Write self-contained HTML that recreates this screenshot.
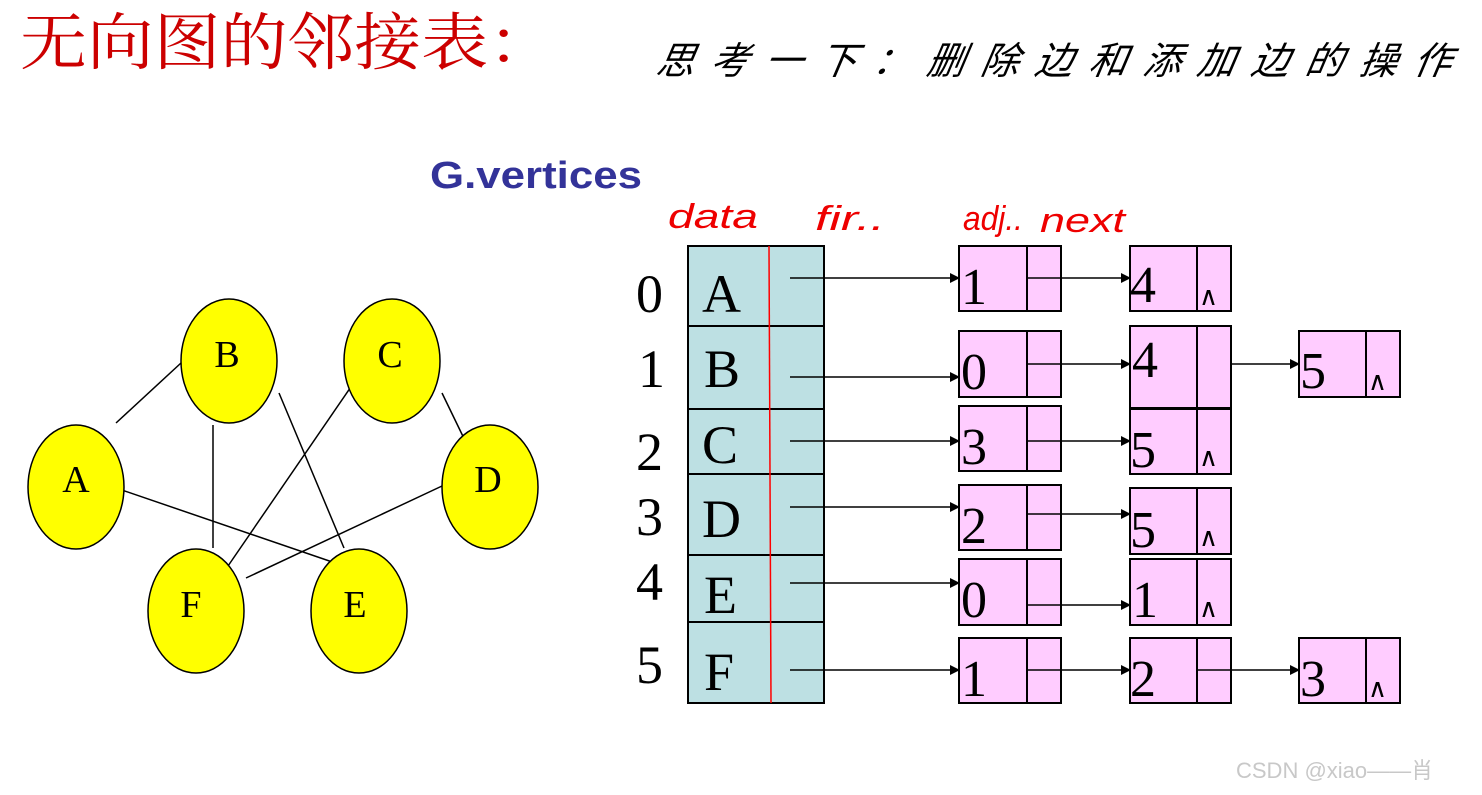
<!DOCTYPE html>
<html><head><meta charset="utf-8"><style>
html,body{margin:0;padding:0;background:#fff;width:1482px;height:795px;overflow:hidden}
svg{display:block}
</style></head><body>
<svg width="1482" height="795" viewBox="0 0 1482 795" xmlns="http://www.w3.org/2000/svg">
<defs><marker id="ar" markerWidth="10" markerHeight="10" refX="9" refY="5" orient="auto" markerUnits="userSpaceOnUse"><path d="M0,0 L10,5 L0,10 z" fill="#000"/></marker></defs>
<text x="20" y="64" font-family="'Liberation Serif','Noto Serif CJK SC',serif" font-size="62" fill="#cc0000" textLength="535" lengthAdjust="spacingAndGlyphs">无向图的邻接表：</text>
<text x="655" y="74" font-family="'Liberation Sans','Noto Sans CJK SC',sans-serif" font-size="38" font-style="italic" fill="#000" textLength="795" lengthAdjust="spacing" transform="skewX(-10) translate(13,0)">思考一下：删除边和添加边的操作</text>
<text x="430" y="188" font-family="'Liberation Sans',sans-serif" font-weight="bold" font-size="38" fill="#333399" textLength="212" lengthAdjust="spacingAndGlyphs">G.vertices</text>
<g font-family="'Liberation Sans',sans-serif" font-size="34" fill="#ee0000" font-style="italic">
<text x="668" y="228" textLength="90" lengthAdjust="spacingAndGlyphs">data</text>
<text x="815" y="230" textLength="70" lengthAdjust="spacingAndGlyphs">fir..</text>
<text x="963" y="230" textLength="60" lengthAdjust="spacingAndGlyphs">adj..</text>
<text x="1040" y="232" textLength="85" lengthAdjust="spacingAndGlyphs">next</text>
</g>
<!-- graph -->
<g stroke="#000" stroke-width="1.5">
<line x1="116" y1="423" x2="181" y2="363"/>
<line x1="213" y1="425" x2="213" y2="548"/>
<line x1="279" y1="393" x2="344" y2="548"/>
<line x1="357" y1="378" x2="228" y2="566"/>
<line x1="442" y1="393" x2="472" y2="455"/>
<line x1="116" y1="488" x2="344" y2="566"/>
<line x1="442" y1="486" x2="246" y2="578"/>
</g>
<g fill="#ffff00" stroke="#000" stroke-width="1.5">
<ellipse cx="76" cy="487" rx="48" ry="62"/>
<ellipse cx="229" cy="361" rx="48" ry="62"/>
<ellipse cx="392" cy="361" rx="48" ry="62"/>
<ellipse cx="490" cy="487" rx="48" ry="62"/>
<ellipse cx="196" cy="611" rx="48" ry="62"/>
<ellipse cx="359" cy="611" rx="48" ry="62"/>
</g>
<g font-family="'Liberation Serif',serif" font-size="38" fill="#000" text-anchor="middle">
<text x="76" y="492">A</text><text x="227" y="367">B</text><text x="390" y="367">C</text>
<text x="488" y="492">D</text><text x="191" y="617">F</text><text x="355" y="617">E</text>
</g>
<!-- vertex table -->
<g fill="#bde0e3" stroke="#000" stroke-width="2">
<rect x="688" y="246" width="136" height="80"/>
<rect x="688" y="326" width="136" height="83"/>
<rect x="688" y="409" width="136" height="65"/>
<rect x="688" y="474" width="136" height="81"/>
<rect x="688" y="555" width="136" height="67"/>
<rect x="688" y="622" width="136" height="81"/>
</g>
<line x1="769" y1="246" x2="771" y2="703" stroke="#ff0000" stroke-width="1.5"/>
<g font-family="'Liberation Serif',serif" font-size="54" fill="#000">
<text x="636" y="312">0</text><text x="638" y="387">1</text><text x="636" y="470">2</text>
<text x="636" y="535">3</text><text x="636" y="600">4</text><text x="636" y="683">5</text>
<text x="702" y="312">A</text><text x="704" y="387">B</text><text x="702" y="463">C</text>
<text x="702" y="537">D</text><text x="704" y="613">E</text><text x="704" y="690">F</text>
</g>
<!-- nodes -->
<g fill="#ffccff" stroke="#000" stroke-width="2">
<rect x="959" y="246" width="102" height="65"/><line x1="1027" y1="246" x2="1027" y2="311"/>
<rect x="959" y="331" width="102" height="66"/><line x1="1027" y1="331" x2="1027" y2="397"/>
<rect x="959" y="406" width="102" height="65"/><line x1="1027" y1="406" x2="1027" y2="471"/>
<rect x="959" y="485" width="102" height="65"/><line x1="1027" y1="485" x2="1027" y2="550"/>
<rect x="959" y="559" width="102" height="66"/><line x1="1027" y1="559" x2="1027" y2="625"/>
<rect x="959" y="638" width="102" height="65"/><line x1="1027" y1="638" x2="1027" y2="703"/>
<rect x="1130" y="246" width="101" height="65"/><line x1="1197" y1="246" x2="1197" y2="311"/>
<rect x="1130" y="326" width="101" height="82"/><line x1="1197" y1="326" x2="1197" y2="408"/>
<rect x="1130" y="409" width="101" height="65"/><line x1="1197" y1="409" x2="1197" y2="474"/>
<rect x="1130" y="488" width="101" height="66"/><line x1="1197" y1="488" x2="1197" y2="554"/>
<rect x="1130" y="559" width="101" height="66"/><line x1="1197" y1="559" x2="1197" y2="625"/>
<rect x="1130" y="638" width="101" height="65"/><line x1="1197" y1="638" x2="1197" y2="703"/>
<rect x="1299" y="331" width="101" height="66"/><line x1="1366" y1="331" x2="1366" y2="397"/>
<rect x="1299" y="638" width="101" height="65"/><line x1="1366" y1="638" x2="1366" y2="703"/>
</g>
<g font-family="'Liberation Serif',serif" font-size="52" fill="#000">
<text x="961" y="304">1</text><text x="961" y="389">0</text><text x="961" y="464">3</text>
<text x="961" y="543">2</text><text x="961" y="617">0</text><text x="961" y="696">1</text>
<text x="1130" y="302">4</text><text x="1132" y="377">4</text><text x="1130" y="467">5</text>
<text x="1130" y="547">5</text><text x="1132" y="617">1</text><text x="1130" y="696">2</text>
<text x="1300" y="388">5</text><text x="1300" y="696">3</text>
</g>
<g font-family="'Liberation Sans',sans-serif" font-size="26" fill="#000">
<text x="1199" y="305">∧</text><text x="1199" y="466">∧</text><text x="1199" y="546">∧</text>
<text x="1199" y="617">∧</text><text x="1368" y="390">∧</text><text x="1368" y="697">∧</text>
</g>
<!-- arrows -->
<g stroke="#000" stroke-width="1.5" marker-end="url(#ar)">
<line x1="790" y1="278" x2="959" y2="278"/>
<line x1="790" y1="377" x2="959" y2="377"/>
<line x1="790" y1="441" x2="959" y2="441"/>
<line x1="790" y1="507" x2="959" y2="507"/>
<line x1="790" y1="583" x2="959" y2="583"/>
<line x1="790" y1="670" x2="959" y2="670"/>
<line x1="1027" y1="278" x2="1130" y2="278"/>
<line x1="1027" y1="364" x2="1130" y2="364"/>
<line x1="1027" y1="441" x2="1130" y2="441"/>
<line x1="1027" y1="514" x2="1130" y2="514"/>
<line x1="1027" y1="605" x2="1130" y2="605"/>
<line x1="1027" y1="670" x2="1130" y2="670"/>
<line x1="1231" y1="364" x2="1299" y2="364"/>
<line x1="1197" y1="670" x2="1299" y2="670"/>
</g>
<text x="1236" y="778" font-family="'Liberation Sans','Noto Sans CJK SC',sans-serif" font-size="22" fill="#c8c8c8">CSDN @xiao——肖</text>
</svg>
</body></html>
